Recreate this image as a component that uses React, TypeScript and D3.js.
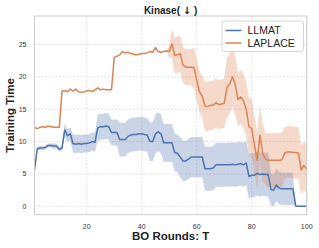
import { useEffect, useRef } from "react"
import * as d3 from "d3"

const rounds = d3.range(1, 101)

const llmatMean = [
  5.6, 8.9, 9.0, 9.0, 9.1, 9.4, 9.4, 9.3, 9.3, 8.8,
  9.0, 11.8, 10.9, 11.2, 9.7, 9.6, 9.7, 9.6, 9.7, 9.7,
  9.8, 10.0, 9.9, 12.1, 12.3, 12.3, 12.4, 12.3, 11.4, 11.4,
  11.4, 10.3, 10.3, 10.3, 10.8, 11.0, 11.1, 11.1, 11.2, 11.2,
  11.1, 11.0, 10.0, 10.0, 11.2, 11.5, 11.2, 9.8, 9.8, 9.8,
  9.8, 8.3, 8.2, 7.6, 7.0, 7.0, 7.3, 7.6, 7.6, 7.6,
  7.6, 7.6, 5.8, 5.8, 5.8, 5.9, 6.4, 6.4, 6.4, 6.4,
  6.4, 6.4, 6.5, 6.4, 6.5, 6.6, 6.4, 6.7, 4.6, 4.8,
  4.8, 5.1, 4.9, 5.0, 4.9, 4.9, 2.6, 2.5, 3.3, 2.8,
  2.7, 2.7, 2.7, 2.7, 2.7, 0.05, 0, 0, 0, 0,
]
const llmatStd = [
  0.3, 0.3, 0.3, 0.3, 0.3, 0.3, 0.3, 0.4, 0.4, 0.3,
  0.4, 1.0, 1.0, 1.0, 1.4, 1.4, 1.4, 1.4, 1.4, 1.4,
  1.4, 1.4, 1.5, 2.0, 2.0, 2.0, 2.0, 2.0, 2.0, 2.0,
  2.0, 2.6, 2.6, 2.6, 2.6, 2.6, 2.6, 2.6, 2.6, 2.6,
  2.6, 2.6, 3.0, 3.0, 3.0, 3.0, 3.0, 2.9, 2.9, 2.9,
  2.9, 2.9, 2.9, 3.1, 3.1, 3.1, 3.1, 3.1, 3.1, 3.1,
  3.1, 3.1, 3.4, 3.4, 3.4, 3.4, 3.4, 3.4, 3.4, 3.4,
  3.4, 3.4, 3.4, 3.4, 3.4, 3.4, 3.4, 3.4, 3.4, 3.4,
  3.4, 3.4, 3.4, 3.4, 3.4, 3.4, 2.5, 2.5, 2.5, 2.5,
  2.5, 2.5, 2.5, 2.5, 2.5, 0, 0, 0, 0, 0,
]

const laplaceMean = [
  12.2, 12.0, 12.2, 12.3, 12.2, 12.4, 12.3, 12.2, 12.2, 12.2,
  17.8, 17.9, 17.7, 18.1, 17.8, 18.1, 17.7, 17.6, 17.7, 17.8,
  17.9, 17.7, 18.0, 18.3, 18.0, 18.1, 18.0, 18.0, 18.0, 23.0,
  23.2, 23.4, 23.9, 23.7, 23.8, 23.6, 23.5, 23.4, 23.5, 23.6,
  23.6, 23.7, 23.9, 23.8, 24.5, 23.9, 23.8, 23.9, 24.0, 23.9,
  25.1, 23.3, 23.4, 23.6, 21.8, 21.5, 21.5, 21.5, 21.4, 19.5,
  17.7, 17.0, 15.5, 15.4, 15.6, 15.6, 16.0, 15.7, 15.8, 15.9,
  18.4, 18.9, 20.0, 18.8, 16.5, 16.9, 16.3, 15.0, 12.3, 12.0,
  9.4, 7.1, 11.0, 8.2, 7.3, 7.1, 7.1, 7.1, 7.1, 7.1,
  7.2, 8.2, 8.4, 8.4, 8.3, 8.3, 8.2, 5.6, 6.3, 5.7,
]
const laplaceStd = [
  0, 0, 0, 0, 0, 0, 0, 0, 0, 0,
  0, 0, 0, 0, 0, 0, 0, 0, 0, 0,
  0, 0, 0, 0, 0, 0, 0, 0, 0, 0,
  0, 0, 0, 0, 0, 0, 0, 0, 0, 0,
  0, 0, 0, 0, 0, 0, 0, 0, 0, 1.0,
  2.2, 2.8, 2.8, 2.8, 2.8, 2.8, 2.8, 2.8, 3.2, 3.2,
  3.2, 3.2, 3.8, 3.8, 3.8, 3.8, 3.8, 3.8, 3.8, 3.8,
  4.6, 4.6, 4.6, 4.6, 4.2, 4.2, 4.2, 4.2, 4.5, 4.5,
  4.5, 4.5, 4.5, 4.5, 4.0, 4.2, 4.2, 4.2, 4.2, 4.2,
  4.2, 4.0, 4.0, 4.0, 4.0, 4.0, 4.0, 3.8, 3.8, 3.8,
]

const seriesNames = ["LLMAT", "LAPLACE"]
const seriesColors = ["#4c72b0", "#dd8452"]
const xTicks = [20, 40, 60, 80, 100]
const yTicks = [0, 5, 10, 15, 20, 25]

export default function App() {
  const ref = useRef<SVGSVGElement>(null)

  useEffect(() => {
    const width = 319, height = 248
    const margin = { top: 16, left: 34.5, right: 12.3, bottom: 33.3 }
    const innerW = width - margin.left - margin.right
    const innerH = height - margin.top - margin.bottom
    const font = "'Liberation Sans', Arial, sans-serif"

    const svg = d3.select(ref.current)
    svg.selectAll("*").remove()

    const g = svg.append("g").attr("transform", `translate(${margin.left}, ${margin.top})`)

    const xScale = d3.scaleLinear().domain([1, 100]).range([0, innerW])
    const yScale = d3.scaleLinear().domain([-1.3, 29.4]).range([innerH, 0])

    // grid
    g.selectAll(".xgrid")
      .data(xTicks)
      .join("line")
      .attr("x1", d => xScale(d)).attr("x2", d => xScale(d))
      .attr("y1", 0).attr("y2", innerH)
      .attr("stroke", "#dcdcdc").attr("stroke-width", 0.8)
      .attr("stroke-dasharray", "2,1.5")

    g.selectAll(".ygrid")
      .data(yTicks)
      .join("line")
      .attr("x1", 0).attr("x2", innerW)
      .attr("y1", d => yScale(d)).attr("y2", d => yScale(d))
      .attr("stroke", "#dcdcdc").attr("stroke-width", 0.8)
      .attr("stroke-dasharray", "2,1.5")

    const series = [
      { mean: llmatMean, std: llmatStd },
      { mean: laplaceMean, std: laplaceStd },
    ]

    // std bands
    series.forEach((s, si) => {
      const idx = d3.range(rounds.length)
      const band = d3.area<number>()
        .x(i => xScale(rounds[i]))
        .y0(i => yScale(s.mean[i] - s.std[i]))
        .y1(i => yScale(s.mean[i] + s.std[i]))
      g.append("path")
        .attr("d", band(idx))
        .attr("fill", seriesColors[si])
        .attr("fill-opacity", 0.3)
        .attr("stroke", "none")
    })

    // mean lines
    series.forEach((s, si) => {
      const line = d3.line<number>()
        .x((d, i) => xScale(rounds[i]))
        .y(d => yScale(d))
      g.append("path")
        .attr("d", line(s.mean))
        .attr("fill", "none")
        .attr("stroke", seriesColors[si])
        .attr("stroke-width", 1.5)
        .attr("stroke-linejoin", "round")
    })

    // spines
    g.append("rect")
      .attr("x", 0).attr("y", 0)
      .attr("width", innerW).attr("height", innerH)
      .attr("fill", "none")
      .attr("stroke", "#cccccc")
      .attr("stroke-width", 1)

    // tick labels
    g.selectAll(".xtick")
      .data(xTicks)
      .join("text")
      .attr("x", d => xScale(d))
      .attr("y", innerH + 14)
      .attr("text-anchor", "middle")
      .style("font-family", font)
      .style("font-size", "7px")
      .attr("fill", "#333")
      .text(d => d)

    g.selectAll(".ytick")
      .data(yTicks)
      .join("text")
      .attr("x", -8)
      .attr("y", d => yScale(d) + 2.5)
      .attr("text-anchor", "end")
      .style("font-family", font)
      .style("font-size", "7px")
      .attr("fill", "#333")
      .text(d => d)

    // title and labels
    const title = svg.append("text")
      .attr("x", margin.left + innerW / 2)
      .attr("y", 13.5)
      .attr("text-anchor", "middle")
      .style("font-family", font)
      .style("font-size", "10px")
      .style("font-weight", "bold")
      .attr("fill", "#222")
    title.append("tspan").text("Kinase( ")
    title.append("tspan").style("font-family", "'DejaVu Sans', sans-serif").text("↓")
    title.append("tspan").text(" )")

    svg.append("text")
      .attr("x", margin.left + innerW / 2)
      .attr("y", 240)
      .attr("text-anchor", "middle")
      .style("font-family", font)
      .style("font-size", "11.5px")
      .style("font-weight", "bold")
      .attr("fill", "#222")
      .text("BO Rounds: T")

    svg.append("text")
      .attr("transform", `translate(14, ${margin.top + innerH / 2}) rotate(-90)`)
      .attr("text-anchor", "middle")
      .style("font-family", font)
      .style("font-size", "11.5px")
      .style("font-weight", "bold")
      .attr("fill", "#222")
      .text("Training Time")

    // legend
    const legend = svg.append("g").attr("transform", "translate(222, 21)")
    legend.append("rect")
      .attr("width", 81.5).attr("height", 30.5)
      .attr("rx", 2)
      .attr("fill", "white").attr("fill-opacity", 0.85)
      .attr("stroke", "#cccccc").attr("stroke-width", 0.8)

    seriesNames.forEach((name, i) => {
      legend.append("line")
        .attr("x1", 3.5).attr("x2", 19.5)
        .attr("y1", 9.5 + i * 12.5).attr("y2", 9.5 + i * 12.5)
        .attr("stroke", seriesColors[i]).attr("stroke-width", 1.5)
      legend.append("text")
        .attr("x", 25.5)
        .attr("y", 13.2 + i * 12.5)
        .style("font-family", font)
        .style("font-size", "10.5px")
        .attr("fill", "#222")
        .text(name)
    })
  }, [])

  return (
    <svg ref={ref} width={319} height={248}
      style={{ position: "absolute", left: 0, top: 0, background: "white" }} />
  )
}
